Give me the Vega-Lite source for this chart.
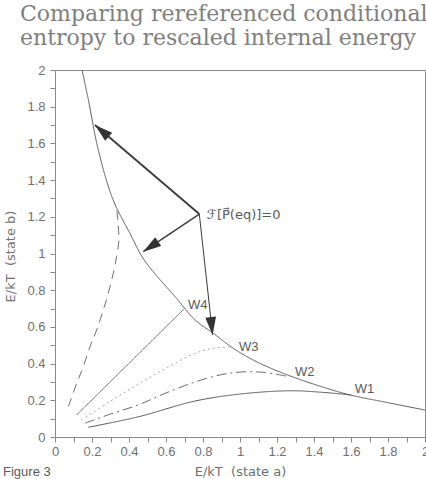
{
  "$schema": "https://vega.github.io/schema/vega-lite/v6.json",
  "width": 370,
  "height": 367,
  "autosize": {"type": "none"},
  "padding": {"left": 55, "top": 70, "right": 1, "bottom": 42},
  "background": "white",
  "title": {
    "text": ["Comparing rereferenced conditional", "entropy to rescaled internal energy"],
    "anchor": "start",
    "frame": "group",
    "font": "DejaVu Serif",
    "fontSize": 22,
    "fontWeight": "normal",
    "color": "#808080",
    "lineHeight": 24,
    "baseline": "top",
    "dx": -35,
    "dy": -4,
    "offset": 10
  },
  "config": {
    "view": {"stroke": "#8a8a8a", "strokeWidth": 1},
    "axis": {
      "domainColor": "#8a8a8a",
      "tickColor": "#8a8a8a",
      "tickSize": 5,
      "labelFont": "Liberation Sans",
      "labelFontSize": 13,
      "labelColor": "#707070",
      "labelOverlap": false,
      "labelFlush": false,
      "grid": false,
      "titleFont": "DejaVu Sans",
      "titleFontSize": 13,
      "titleFontWeight": "normal",
      "titleColor": "#707070"
    }
  },
  "datasets": {
    "curves": [
      {"s": "main", "i": 0, "x": 0.146, "y": 2.0},
      {"s": "main", "i": 1, "x": 0.18, "y": 1.84},
      {"s": "main", "i": 2, "x": 0.234, "y": 1.564},
      {"s": "main", "i": 3, "x": 0.315, "y": 1.29},
      {"s": "main", "i": 4, "x": 0.405, "y": 1.11},
      {"s": "main", "i": 5, "x": 0.472, "y": 0.98},
      {"s": "main", "i": 6, "x": 0.54, "y": 0.89},
      {"s": "main", "i": 7, "x": 0.649, "y": 0.765},
      {"s": "main", "i": 8, "x": 0.757, "y": 0.638},
      {"s": "main", "i": 9, "x": 0.856, "y": 0.565},
      {"s": "main", "i": 10, "x": 0.964, "y": 0.483},
      {"s": "main", "i": 11, "x": 1.09, "y": 0.41},
      {"s": "main", "i": 12, "x": 1.27, "y": 0.333},
      {"s": "main", "i": 13, "x": 1.486, "y": 0.26},
      {"s": "main", "i": 14, "x": 1.595, "y": 0.229},
      {"s": "main", "i": 15, "x": 1.775, "y": 0.192},
      {"s": "main", "i": 16, "x": 2.0, "y": 0.147},
      {"s": "w5", "i": 0, "x": 0.072, "y": 0.165},
      {"s": "w5", "i": 1, "x": 0.117, "y": 0.292},
      {"s": "w5", "i": 2, "x": 0.153, "y": 0.383},
      {"s": "w5", "i": 3, "x": 0.189, "y": 0.492},
      {"s": "w5", "i": 4, "x": 0.225, "y": 0.583},
      {"s": "w5", "i": 5, "x": 0.261, "y": 0.692},
      {"s": "w5", "i": 6, "x": 0.288, "y": 0.783},
      {"s": "w5", "i": 7, "x": 0.315, "y": 0.892},
      {"s": "w5", "i": 8, "x": 0.333, "y": 0.983},
      {"s": "w5", "i": 9, "x": 0.345, "y": 1.07},
      {"s": "w5", "i": 10, "x": 0.342, "y": 1.15},
      {"s": "w5", "i": 11, "x": 0.333, "y": 1.255},
      {"s": "w4", "i": 0, "x": 0.117, "y": 0.12},
      {"s": "w4", "i": 1, "x": 0.7, "y": 0.7},
      {"s": "w3", "i": 0, "x": 0.144, "y": 0.093},
      {"s": "w3", "i": 1, "x": 0.3, "y": 0.195},
      {"s": "w3", "i": 2, "x": 0.45, "y": 0.288},
      {"s": "w3", "i": 3, "x": 0.6, "y": 0.375},
      {"s": "w3", "i": 4, "x": 0.757, "y": 0.456},
      {"s": "w3", "i": 5, "x": 0.85, "y": 0.482},
      {"s": "w3", "i": 6, "x": 0.95, "y": 0.49},
      {"s": "w2", "i": 0, "x": 0.162, "y": 0.075},
      {"s": "w2", "i": 1, "x": 0.3, "y": 0.125},
      {"s": "w2", "i": 2, "x": 0.45, "y": 0.175},
      {"s": "w2", "i": 3, "x": 0.6, "y": 0.24},
      {"s": "w2", "i": 4, "x": 0.757, "y": 0.3},
      {"s": "w2", "i": 5, "x": 0.9, "y": 0.34},
      {"s": "w2", "i": 6, "x": 1.0, "y": 0.354},
      {"s": "w2", "i": 7, "x": 1.12, "y": 0.353},
      {"s": "w2", "i": 8, "x": 1.25, "y": 0.332},
      {"s": "w1", "i": 0, "x": 0.18, "y": 0.053},
      {"s": "w1", "i": 1, "x": 0.45, "y": 0.11},
      {"s": "w1", "i": 2, "x": 0.757, "y": 0.196},
      {"s": "w1", "i": 3, "x": 1.0, "y": 0.234},
      {"s": "w1", "i": 4, "x": 1.27, "y": 0.252},
      {"s": "w1", "i": 5, "x": 1.45, "y": 0.243},
      {"s": "w1", "i": 6, "x": 1.6, "y": 0.229}
    ],
    "arrows": [
      {"arrow": "a1", "x0": 0.78, "y0": 1.215, "x1": 0.216, "y1": 1.7},
      {"arrow": "a2", "x0": 0.78, "y0": 1.215, "x1": 0.477, "y1": 1.01},
      {"arrow": "a3", "x0": 0.78, "y0": 1.215, "x1": 0.852, "y1": 0.556}
    ],
    "labels": [
      {"t": "W1", "x": 1.62, "y": 0.26},
      {"t": "W2", "x": 1.297, "y": 0.354},
      {"t": "W3", "x": 0.995, "y": 0.49},
      {"t": "W4", "x": 0.719, "y": 0.719},
      {"t": "Figure 3", "x": -0.281, "y": -0.19}
    ],
    "flabel": [
      {"t": "ℱ[P⃗(eq)]=0", "x": 0.82, "y": 1.21}
    ]
  },
  "layer": [
    {
      "data": {"name": "curves"},
      "mark": {"type": "line", "interpolate": "catmull-rom", "strokeWidth": 1},
      "encoding": {
        "x": {
          "field": "x", "type": "quantitative",
          "scale": {"domain": [0, 2], "nice": false, "zero": false},
          "axis": {
            "title": "E/kT\u00a0\u00a0(state a)",
            "values": [0, 0.1, 0.2, 0.3, 0.4, 0.5, 0.6, 0.7, 0.8, 0.9, 1, 1.1, 1.2, 1.3, 1.4, 1.5, 1.6, 1.7, 1.8, 1.9, 2],
            "tickCount": 40,
            "labelExpr": "round(datum.value*10) % 2 == 0 ? format(datum.value, '~g') : ''",
            "labelOverlap": false,
            "labelFlush": false,
            "labelPadding": 3,
            "titleX": 185,
            "titleY": 34,
            "titleAlign": "center",
            "titleBaseline": "middle"
          }
        },
        "y": {
          "field": "y", "type": "quantitative",
          "scale": {"domain": [0, 2], "nice": false, "zero": false},
          "axis": {
            "title": "E/kT\u00a0\u00a0(state b)",
            "values": [0, 0.1, 0.2, 0.3, 0.4, 0.5, 0.6, 0.7, 0.8, 0.9, 1, 1.1, 1.2, 1.3, 1.4, 1.5, 1.6, 1.7, 1.8, 1.9, 2],
            "tickCount": 40,
            "labelExpr": "round(datum.value*10) % 2 == 0 ? format(datum.value, '~g') : ''",
            "labelOverlap": false,
            "labelFlush": false,
            "labelPadding": 5,
            "titleX": -45,
            "titleY": 186,
            "titleAngle": -90,
            "titleAlign": "center",
            "titleBaseline": "middle"
          }
        },
        "order": {"field": "i", "type": "quantitative"},
        "strokeDash": {
          "field": "s", "type": "nominal",
          "scale": {"domain": ["main", "w5", "w4", "w3", "w2", "w1"], "range": [[1, 0], [9, 6], [1, 0], [2, 3], [10, 4, 2, 4], [1, 0]]},
          "legend": null
        },
        "color": {
          "field": "s", "type": "nominal",
          "scale": {"domain": ["main", "w5", "w4", "w3", "w2", "w1"], "range": ["#5a5a5a", "#707070", "#666666", "#a8a8a8", "#6a6a6a", "#555555"]},
          "legend": null
        }
      }
    },
    {
      "data": {"name": "arrows"},
      "mark": {"type": "rule", "color": "#3a3a3a"},
      "encoding": {
        "x": {"field": "x0", "type": "quantitative"},
        "y": {"field": "y0", "type": "quantitative"},
        "x2": {"field": "x1"},
        "y2": {"field": "y1"},
        "strokeWidth": {
          "field": "arrow", "type": "nominal",
          "scale": {"domain": ["a1", "a2", "a3"], "range": [1.8, 1, 1]},
          "legend": null
        }
      }
    },
    {
      "data": {"name": "arrows"},
      "transform": [{"filter": "datum.arrow == 'a1'"}],
      "mark": {"type": "point", "shape": "M0,0L-0.3,1L0.3,1Z", "filled": true, "size": 1296, "angle": 310.5, "color": "#333333", "opacity": 1},
      "encoding": {
        "x": {"field": "x1", "type": "quantitative"},
        "y": {"field": "y1", "type": "quantitative"}
      }
    },
    {
      "data": {"name": "arrows"},
      "transform": [{"filter": "datum.arrow == 'a2'"}],
      "mark": {"type": "point", "shape": "M0,0L-0.3,1L0.3,1Z", "filled": true, "size": 1296, "angle": 236.1, "color": "#333333", "opacity": 1},
      "encoding": {
        "x": {"field": "x1", "type": "quantitative"},
        "y": {"field": "y1", "type": "quantitative"}
      }
    },
    {
      "data": {"name": "arrows"},
      "transform": [{"filter": "datum.arrow == 'a3'"}],
      "mark": {"type": "point", "shape": "M0,0L-0.3,1L0.3,1Z", "filled": true, "size": 1296, "angle": 173.7, "color": "#333333", "opacity": 1},
      "encoding": {
        "x": {"field": "x1", "type": "quantitative"},
        "y": {"field": "y1", "type": "quantitative"}
      }
    },
    {
      "data": {"name": "labels"},
      "mark": {"type": "text", "align": "left", "baseline": "middle", "font": "Liberation Sans", "fontSize": 13, "color": "#5a5a5a"},
      "encoding": {
        "x": {"field": "x", "type": "quantitative"},
        "y": {"field": "y", "type": "quantitative"},
        "text": {"field": "t"}
      }
    },
    {
      "data": {"name": "flabel"},
      "mark": {"type": "text", "align": "left", "baseline": "middle", "font": "DejaVu Sans", "fontSize": 13, "color": "#5a5a5a"},
      "encoding": {
        "x": {"field": "x", "type": "quantitative"},
        "y": {"field": "y", "type": "quantitative"},
        "text": {"field": "t"}
      }
    }
  ]
}
